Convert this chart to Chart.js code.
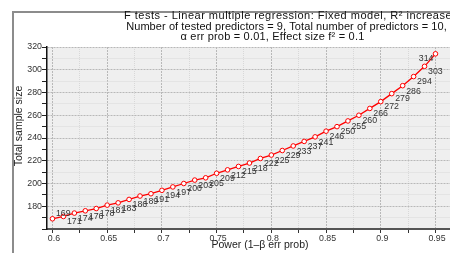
<!DOCTYPE html>
<html>
<head>
<meta charset="utf-8">
<script src="https://cdn.jsdelivr.net/npm/chart.js@4.4.1/dist/chart.umd.min.js"></script>
<style>
  html, body { margin: 0; padding: 0; background: #fff; }
  #wrap { width: 450px; height: 253px; overflow: hidden; position: relative; }
  canvas { position: absolute; left: 0; top: 0; }
</style>
</head>
<body>
<div id="wrap"><canvas id="myChart" width="545" height="253"></canvas></div>
<script>
// values
var power = [0.60, 0.61, 0.62, 0.63, 0.64, 0.65, 0.66, 0.67, 0.68, 0.69,
             0.70, 0.71, 0.72, 0.73, 0.74, 0.75, 0.76, 0.77, 0.78, 0.79,
             0.80, 0.81, 0.82, 0.83, 0.84, 0.85, 0.86, 0.87, 0.88, 0.89,
             0.90, 0.91, 0.92, 0.93, 0.94, 0.95];
var sampleSize = [169, 171, 174, 176, 178, 181, 183, 186, 189, 191,
                  194, 197, 200, 203, 205, 209, 212, 215, 218, 222,
                  225, 229, 233, 237, 241, 246, 250, 255, 260, 266,
                  272, 279, 286, 294, 303, 314];
var xTickLabels = ['0.6', '0.65', '0.7', '0.75', '0.8', '0.85', '0.9', '0.95'];
var yTickLabels = [180, 200, 220, 240, 260, 280, 300, 320];
var titleLines = [
    'F tests - Linear multiple regression: Fixed model, R\u00b2 increase',
    'Number of tested predictors = 9, Total number of predictors = 10,',
    '\u03b1 err prob = 0.01, Effect size f\u00b2 = 0.1'
];
var xTitle = 'Power (1\u2013\u03b2 err prob)';
var yTitle = 'Total sample size';

var FONT = "'Liberation Sans', Arial, sans-serif";

function esMayor(v, paso){
    return Math.abs(v / paso - Math.round(v / paso)) < 1e-6;
}

var fondoYMarco = {
    id: 'fondoYMarco',
    beforeDraw: function(chart){
        var ctx = chart.ctx, a = chart.chartArea;
        ctx.save();
        ctx.fillStyle = '#ffffff';
        ctx.fillRect(0, 0, chart.width, chart.height);
        ctx.strokeStyle = '#8c8c8c';
        ctx.lineWidth = 2;
        ctx.strokeRect(13, 12, chart.width - 26, chart.height + 10);
        ctx.fillStyle = '#efefef';
        ctx.fillRect(a.left, a.top, a.right - a.left, a.bottom - a.top);
        ctx.restore();
    }
};

var etiquetas = {
    id: 'etiquetas',
    afterDatasetsDraw: function(chart){
        var ctx = chart.ctx;
        var meta = chart.getDatasetMeta(0);
        ctx.save();
        ctx.font = '8.8px ' + FONT;
        ctx.fillStyle = '#333';
        ctx.textBaseline = 'top';
        for (var i = 0; i < meta.data.length; i++){
            var p = meta.data[i];
            var txt = String(sampleSize[i]);
            if (i == 0){
                ctx.textAlign = 'left';
                ctx.fillText(txt, p.x + 3.5, p.y - 9.5);
            } else if (i == meta.data.length - 1){
                ctx.textAlign = 'right';
                ctx.fillText(txt, p.x - 2, p.y + 0.5);
            } else {
                ctx.textAlign = 'left';
                ctx.fillText(txt, p.x + 3.5, p.y + 1);
            }
        }
        ctx.restore();
    }
};

// titulo de 3 lineas y titulos de ejes
var textos = {
    id: 'textos',
    afterDraw: function(chart){
        var ctx = chart.ctx;
        ctx.save();
        ctx.fillStyle = '#111';
        ctx.textAlign = 'center';
        ctx.textBaseline = 'alphabetic';
        ctx.font = '11px ' + FONT;
        var centros = [288, 286.5, 272.5];
        var bases = [19, 29.7, 40];
        var espacios = ['0.5px', '0.08px', '0.2px'];
        for (var i = 0; i < titleLines.length; i++){
            ctx.letterSpacing = espacios[i];
            ctx.fillText(titleLines[i], centros[i], bases[i]);
        }
        ctx.letterSpacing = '0px';
        ctx.font = '10.5px ' + FONT;
        ctx.fillStyle = '#222';
        ctx.textBaseline = 'middle';
        ctx.fillText(xTitle, 260, 245);
        ctx.translate(19, 126);
        ctx.rotate(-Math.PI / 2);
        ctx.fillText(yTitle, 0, 0);
        ctx.restore();
    }
};

function crearGrafica(){
    var puntos = power.map(function(p, i){ return {x: p, y: sampleSize[i]}; });
    var ctx = document.getElementById('myChart').getContext('2d');
    new Chart(ctx, {
        type: 'line',
        data: {
            datasets: [{
                data: puntos,
                borderColor: '#ff0000',
                borderWidth: 1.3,
                pointRadius: 2.3,
                pointBorderWidth: 1,
                pointBackgroundColor: '#ffffff',
                pointBorderColor: '#ff0000',
                tension: 0
            }]
        },
        options: {
            responsive: false,
            animation: false,
            layout: { padding: { top: 47, left: 0, right: 0, bottom: 0 } },
            plugins: {
                legend: { display: false },
                tooltip: { enabled: false },
                title: { display: false }
            },
            scales: {
                x: {
                    type: 'linear',
                    min: 0.595,
                    max: 1.0455,
                    afterFit: function(s){ s.height = 24; },
                    ticks: {
                        stepSize: 0.025,
                        includeBounds: false,
                        autoSkip: false,
                        maxRotation: 0,
                        padding: 0,
                        labelOffset: 1.5,
                        color: '#333',
                        font: { family: FONT, size: 8.8 },
                        callback: function(v){
                            var s = String(Math.round(v * 100) / 100);
                            return (esMayor(v, 0.05) && xTickLabels.indexOf(s) >= 0) ? s : '';
                        }
                    },
                    grid: {
                        color: function(c){
                            if (!c.tick) return '#ccc';
                            return esMayor(c.tick.value, 0.05) ? '#b8b8b8' : '#d8d8d8';
                        },
                        lineWidth: 1,
                        tickLength: 4,
                        tickColor: '#333'
                    },
                    border: {
                        color: '#555',
                        width: 2,
                        dash: function(c){
                            if (!c.tick) return [];
                            return esMayor(c.tick.value, 0.05) ? [2, 1] : [1, 1];
                        }
                    }
                },
                y: {
                    min: 160,
                    max: 320,
                    afterFit: function(s){ s.width = 47; },
                    ticks: {
                        stepSize: 10,
                        autoSkip: false,
                        padding: 0,
                        color: '#333',
                        font: { family: FONT, size: 8.8 },
                        callback: function(v){
                            return yTickLabels.indexOf(Math.round(v)) >= 0 ? String(Math.round(v)) : '';
                        }
                    },
                    grid: {
                        color: function(c){
                            if (!c.tick) return '#ccc';
                            return esMayor(c.tick.value, 20) ? '#b8b8b8' : '#d8d8d8';
                        },
                        lineWidth: 1,
                        tickLength: 5,
                        tickColor: '#222'
                    },
                    border: {
                        color: '#111',
                        width: 1.5,
                        dash: function(c){
                            if (!c.tick) return [];
                            return esMayor(c.tick.value, 20) ? [2, 1] : [1, 1];
                        }
                    }
                }
            }
        },
        plugins: [fondoYMarco, etiquetas, textos]
    });
}

crearGrafica();
</script>
</body>
</html>
